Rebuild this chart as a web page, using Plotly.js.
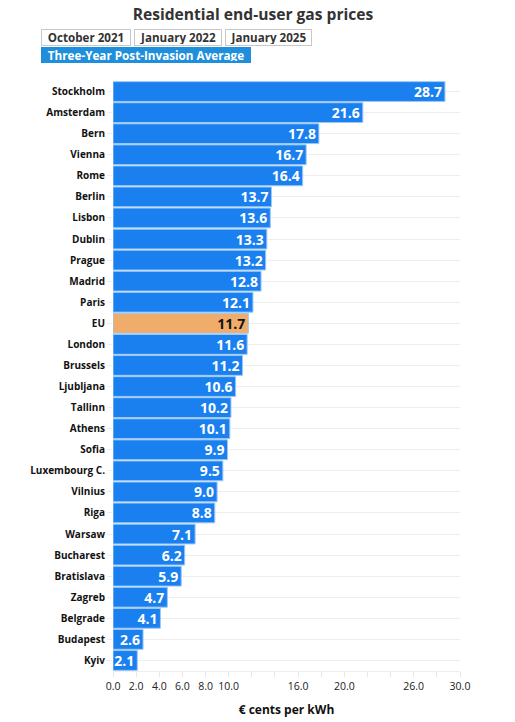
<!DOCTYPE html>
<html><head><meta charset="utf-8">
<script src="https://cdn.plot.ly/plotly-3.0.1.min.js"></script>
<style>html,body{margin:0;padding:0;background:#fff}#chart{width:515px;height:722px}</style>
</head><body><div id="chart"></div>
<script>
const cities = ["Stockholm","Amsterdam","Bern","Vienna","Rome","Berlin","Lisbon","Dublin","Prague","Madrid","Paris","EU","London","Brussels","Ljubljana","Tallinn","Athens","Sofia","Luxembourg C.","Vilnius","Riga","Warsaw","Bucharest","Bratislava","Zagreb","Belgrade","Budapest","Kyiv"];
const avgPrices = [28.7,21.6,17.8,16.7,16.4,13.7,13.6,13.3,13.2,12.8,12.1,11.7,11.6,11.2,10.6,10.2,10.1,9.9,9.5,9.0,8.8,7.1,6.2,5.9,4.7,4.1,2.6,2.1];
const tickValues = [0,2,4,6,8,10,12,14,16,18,20,22,24,26,28,30];
const tickLabels = ["0.0","2.0","4.0","6.0","8.0","10.0","","","16.0","","20.0","","","26.0","","30.0"];
const periodButtons = ["October 2021","January 2022","January 2025"];
const activeButton = "Three-Year Post-Invasion Average";

const FONT = "Open Sans, sans-serif";
const barColors = cities.map(c => c === "EU" ? "#f0ac6a" : "#1a80f0");
const textColors = cities.map(c => c === "EU" ? "#111111" : "#ffffff");

const trace = {
  type: "bar", orientation: "h",
  x: avgPrices, y: cities,
  marker: {color: barColors, line: {color: "#9cc8f5", width: 1}},
  texttemplate: "%{x:.1f}", textposition: "inside", insidetextanchor: "end",
  constraintext: "none",
  textfont: {family: FONT, size: 14, weight: 700, color: textColors},
  hoverinfo: "x+y", cliponaxis: false
};

// button-like labels (static), placed by pixel position converted to paper coords
const PW = 347, PH = 590, ML = 113, MT = 81;
const px2x = p => (p - ML) / PW;
const px2y = p => 1 + (MT - p) / PH;
const btnLeft = [41, 134, 225];
const btnWidth = [86, 84, 83];
const annotations = periodButtons.map((b, i) => ({
  text: b, xref: "paper", yref: "paper", x: px2x(btnLeft[i]), y: px2y(29),
  xanchor: "left", yanchor: "top", showarrow: false,
  width: btnWidth[i], height: 13, align: "center", valign: "middle",
  font: {family: FONT, size: 11.6, weight: 700, color: "#333"},
  bgcolor: "#ffffff", bordercolor: "#c8c8c8", borderwidth: 1, borderpad: 1
}));
annotations.push({
  text: activeButton, xref: "paper", yref: "paper", x: px2x(41), y: px2y(47),
  xanchor: "left", yanchor: "top", showarrow: false,
  width: 206, height: 12, align: "center", valign: "middle",
  font: {family: FONT, size: 11.7, weight: 700, color: "#ffffff"},
  bgcolor: "#1f8fdc", bordercolor: "#1f8fdc", borderwidth: 1, borderpad: 1
});

const layout = {
  width: 515, height: 722,
  margin: {l: ML, r: 55, t: MT, b: 51},
  paper_bgcolor: "#fff", plot_bgcolor: "#fff",
  font: {family: FONT, color: "#222"},
  title: {text: "Residential end-user gas prices", font: {family: FONT, size: 15.6, weight: 700, color: "#333"},
          x: 253/515, xref: "container", xanchor: "center", y: 1 - 15/722, yref: "container", yanchor: "middle"},
  bargap: 0.06,
  showlegend: false,
  annotations: annotations,
  xaxis: {range: [0, 30], tickvals: tickValues, ticktext: tickLabels,
          ticks: "outside", ticklen: 5, tickcolor: "#e6e6e6", showgrid: false, zeroline: false,
          showline: true, linecolor: "#eeeeee", linewidth: 1,
          tickfont: {family: FONT, size: 10.5, color: "#222"},
          title: {text: "€ cents per kWh", font: {family: FONT, size: 12, weight: 700, color: "#111"}, standoff: 14},
          fixedrange: true},
  yaxis: {autorange: "reversed", ticks: "outside", ticklen: 5, tickcolor: "#eeeeee",
          showgrid: true, gridcolor: "#eeeeee", gridwidth: 1, zeroline: false,
          tickfont: {family: FONT, size: 10, weight: 700, color: "#111"}, fixedrange: true}
};

Plotly.newPlot("chart", [trace], layout, {displayModeBar: false, responsive: false});
</script></body></html>
